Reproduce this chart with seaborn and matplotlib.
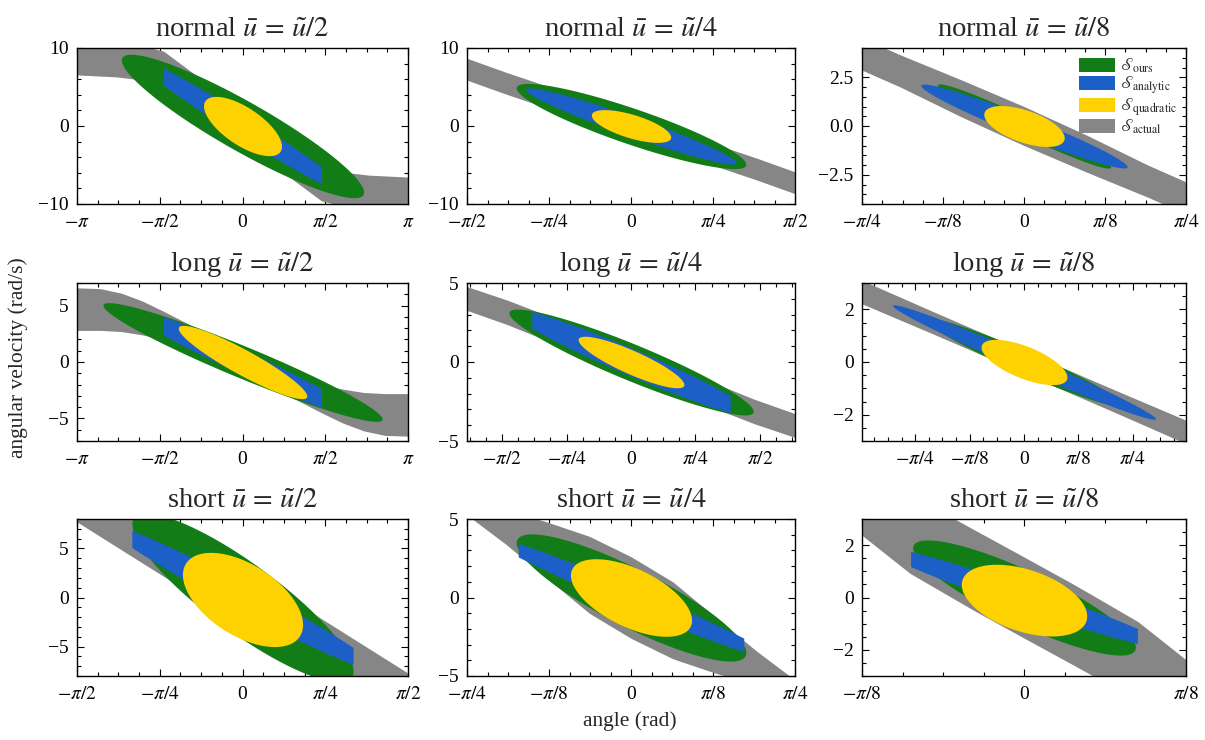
import numpy as np
import matplotlib
matplotlib.use("Agg")
import matplotlib.pyplot as plt
import seaborn as sns
from matplotlib.ticker import AutoMinorLocator, FixedLocator
from matplotlib.patches import Patch

sns.set_theme(style="ticks")
plt.rcParams["font.family"] = ["Liberation Serif", "DejaVu Serif"]
plt.rcParams["mathtext.fontset"] = "stix"

PI = np.pi

# ---- panel grid: rows = horizon type, columns = input bound ----
row_names = ["normal", "long", "short"]
col_divisors = [2, 4, 8]

# axis half-ranges (angle, angular velocity)
x_half = [[PI, PI / 2, PI / 4], [PI, 2.0, 1.17], [PI / 2, PI / 4, PI / 8]]
y_half = [[10, 10, 4], [7, 5, 3], [8, 5, 3]]

# tick positions (multiples of pi) and y ticks
x_tick_frac = [
    [[-1, -0.5, 0, 0.5, 1], [-0.5, -0.25, 0, 0.25, 0.5], [-0.25, -0.125, 0, 0.125, 0.25]],
    [[-1, -0.5, 0, 0.5, 1], [-0.5, -0.25, 0, 0.25, 0.5], [-0.25, -0.125, 0, 0.125, 0.25]],
    [[-0.5, -0.25, 0, 0.25, 0.5], [-0.25, -0.125, 0, 0.125, 0.25], [-0.125, 0, 0.125]],
]
y_ticks = [[[-10, 0, 10], [-10, 0, 10], [-2.5, 0, 2.5]],
           [[-5, 0, 5], [-5, 0, 5], [-2, 0, 2]],
           [[-5, 0, 5], [-5, 0, 5], [-2, 0, 2]]]

# ---- actual reachable set: band between lower and upper boundary ----
actual_x = [
    [[-3.3, -2.4, -1.9, -1.5, -1.1, -0.5, 0.0, 0.5, 1.1, 1.5, 1.9, 2.4, 3.3],
     [-1.7, -1.2, -0.8, -0.4, 0.0, 0.4, 0.8, 1.2, 1.7],
     [-0.9, -0.6, -0.3, 0.0, 0.3, 0.6, 0.9]],
    [[-3.3, -2.7, -2.3, -1.9, -1.5, -1.0, -0.5, 0.0, 0.5, 1.0, 1.5, 1.9, 2.3, 2.7, 3.3],
     [-2.1, -1.5, -1.0, -0.5, 0.0, 0.5, 1.0, 1.5, 2.1],
     [-1.3, -0.65, 0.0, 0.65, 1.3]],
    [[-1.8, -1.57, -1.2, -0.8, -0.4, 0.0, 0.4, 0.8, 1.2, 1.57, 1.8],
     [-0.9, -0.76, -0.6, -0.4, -0.2, 0.0, 0.2, 0.4, 0.6, 0.76, 0.9],
     [-0.45, -0.393, -0.276, -0.168, -0.115, 0.0, 0.115, 0.168, 0.276, 0.393, 0.45]],
]
actual_hi = [
    [[10.8, 10.6, 10.3, 9.6, 7.6, 4.6, 2.0, -1.0, -3.4, -5.2, -5.9, -6.3, -6.6],
     [9.3, 6.9, 5.1, 3.3, 1.4, -0.5, -2.3, -4.1, -6.5],
     [5.05, 3.65, 2.35, 1.0, -0.45, -2.0, -3.4]],
    [[6.6, 6.5, 6.1, 5.4, 4.5, 3.3, 2.1, 0.9, -0.3, -1.2, -2.0, -2.4, -2.7, -2.8, -2.8],
     [4.95, 3.9, 2.9, 1.85, 0.8, -0.25, -1.3, -2.35, -3.45],
     [3.4, 1.9, 0.42, -1.05, -2.5]],
    [[15.0, 14.0, 11.4, 8.6, 5.8, 3.0, 0.2, -2.5, -5.2, -7.7, -9.3],
     [7.0, 6.2, 5.6, 4.8, 3.9, 2.6, 1.0, -1.2, -3.4, -5.0, -6.0],
     [5.5, 4.95, 3.94, 3.0, 2.54, 1.55, 0.55, 0.07, -0.92, -2.38, -3.0]],
]
actual_lo = [
    [[6.6, 6.3, 5.9, 5.2, 3.4, 1.0, -2.0, -4.6, -7.6, -9.6, -10.3, -10.6, -10.8],
     [6.5, 4.1, 2.3, 0.5, -1.4, -3.3, -5.1, -6.9, -9.3],
     [3.4, 2.0, 0.45, -1.0, -2.35, -3.65, -5.05]],
    [[2.8, 2.8, 2.7, 2.4, 2.0, 1.2, 0.3, -0.9, -2.1, -3.3, -4.5, -5.4, -6.1, -6.5, -6.6],
     [3.45, 2.35, 1.3, 0.25, -0.8, -1.85, -2.9, -3.9, -4.95],
     [2.5, 1.05, -0.42, -1.9, -3.4]],
    [[9.3, 7.7, 5.2, 2.5, -0.2, -3.0, -5.8, -8.6, -11.4, -14.0, -15.0],
     [6.0, 5.0, 3.4, 1.2, -1.0, -2.6, -3.9, -4.8, -5.6, -6.2, -7.0],
     [3.0, 2.38, 0.92, -0.07, -0.55, -1.55, -2.54, -3.0, -3.94, -4.95, -5.5]],
]

# ---- ellipsoidal sets: (cx, cy, x half-extent, y half-extent, correlation, angle bound) ----
ours_sets = [
    [(0, 0, 2.3, 9.2, -0.92, None), (0, 0, 1.1, 5.46, -0.897, None), (0, 0, 0.42, 2.16, -0.973, None)],
    [(0, 0, 2.65, 5.26, -0.958, None), (0, 0, 1.49, 3.35, -0.93, None), (0, 0, 0.7, 1.65, -0.962, None)],
    [(0, 0, 1.05, 8.6, -0.87, None), (0, 0, 0.55, 4.05, -0.864, None), (0, 0, 0.27, 2.2, -0.864, None)],
]
analytic_sets = [
    [(0, 0, 2.1, 9.0, -0.985, 1.5), (0, 0, 1.01, 4.88, -0.963, None), (0, 0, 0.5, 2.15, -0.968, None)],
    [(0, 0, 2.2, 4.82, -0.973, 1.5), (0, 0, 1.5, 3.42, -0.965, 1.21), (0, 0, 0.95, 2.175, -0.9885, None)],
    [(0, 0, 1.3, 7.52, -0.981, 1.05), (0, 0, 0.7, 3.98, -0.985, 0.54), (0, 0, 0.36, 1.98, -0.974, 0.275)],
]
quadratic_sets = [
    [(0, 0, 0.74, 3.8, -0.68, None), (0, 0, 0.38, 2.1, -0.667, None), (0, 0, 0.195, 1.05, -0.57, None)],
    [(0, 0, 1.22, 3.25, -0.923, None), (0, 0, 0.645, 1.63, -0.87, None), (0, 0, 0.31, 0.86, -0.66, None)],
    [(0, -0.2, 0.57, 4.8, -0.53, None), (0, 0, 0.29, 2.47, -0.58, None), (0, -0.1, 0.152, 1.37, -0.44, None)],
]

set_colors = {"ours": "#127d17", "analytic": "#1c5fc6", "quadratic": "#fdd200", "actual": "#868686"}
set_labels = {
    "ours": r"$\mathscr{S}_{\mathrm{ours}}$",
    "analytic": r"$\mathscr{S}_{\mathrm{analytic}}$",
    "quadratic": r"$\mathscr{S}_{\mathrm{quadratic}}$",
    "actual": r"$\mathscr{S}_{\mathrm{actual}}$",
}


def fill_ellipse(ax, params, color):
    cx, cy, a, b, r, bound = params
    half = a if bound is None else min(a, bound)
    s = half * np.sin(np.linspace(-np.pi / 2, np.pi / 2, 401))
    centre = cy + r * b / a * s
    width = b * np.sqrt(1 - r * r) * np.sqrt(np.clip(1 - (s / a) ** 2, 0, None))
    ax.fill_between(cx + s, centre - width, centre + width, color=color, lw=0)


def pi_label(f):
    if f == 0:
        return "0"
    sign = "-" if f < 0 else ""
    f = abs(f)
    if f == 1:
        return rf"${sign}\pi$"
    return rf"${sign}\pi/{int(round(1 / f))}$"


fig = plt.figure(figsize=(12.05, 7.4), dpi=100)
W, H = 1205, 740
col_px = [(77, 331), (467, 328), (862, 324)]
row_px = [(48, 156), (283, 158), (519, 157)]

for i in range(3):
    for j in range(3):
        left, w = col_px[j]
        top, h = row_px[i]
        ax = fig.add_axes([left / W, 1 - (top + h) / H, w / W, h / H])
        ax.set_facecolor("white")

        ax.fill_between(actual_x[i][j], actual_lo[i][j], actual_hi[i][j],
                        color=set_colors["actual"], lw=0)
        fill_ellipse(ax, ours_sets[i][j], set_colors["ours"])
        fill_ellipse(ax, analytic_sets[i][j], set_colors["analytic"])
        fill_ellipse(ax, quadratic_sets[i][j], set_colors["quadratic"])

        ax.set_xlim(-x_half[i][j], x_half[i][j])
        ax.set_ylim(-y_half[i][j], y_half[i][j])

        fr = x_tick_frac[i][j]
        ax.xaxis.set_major_locator(FixedLocator([f * PI for f in fr]))
        ax.set_xticklabels([pi_label(f) for f in fr])
        ax.xaxis.set_minor_locator(AutoMinorLocator(4))
        ax.yaxis.set_major_locator(FixedLocator(y_ticks[i][j]))
        ax.yaxis.set_minor_locator(AutoMinorLocator())
        if j == 2 and i == 0:
            ax.set_yticklabels([f"{v:.1f}".replace("-", "\u2212") for v in y_ticks[i][j]])
        else:
            ax.set_yticklabels([f"{v:g}".replace("-", "\u2212") for v in y_ticks[i][j]])

        ax.tick_params(which="both", direction="in", top=True, right=True,
                       labelsize=14, colors="black", width=0.8)
        ax.tick_params(axis="x", which="major", pad=7)
        ax.tick_params(axis="y", which="major", pad=6)
        ax.tick_params(which="major", length=5)
        ax.tick_params(which="minor", length=2.8)
        for sp in ax.spines.values():
            sp.set_color("black")
            sp.set_linewidth(1.0)

        ax.set_title(rf"{row_names[i]} $\bar{{u}}\,=\,\tilde{{u}}/{col_divisors[j]}$",
                     fontsize=20.5, pad=8)

        if i == 0 and j == 2:
            keys = ["ours", "analytic", "quadratic", "actual"]
            handles = [Patch(facecolor=set_colors[k], edgecolor="none") for k in keys]
            ax.legend(handles, [set_labels[k] for k in keys], loc="upper right",
                      frameon=False, fontsize=12, handlelength=2.2, handleheight=0.9,
                      labelspacing=0.0, handletextpad=0.3, borderaxespad=0.1,
                      borderpad=0.4)

fig.text(630 / W, 1 - 721 / H, "angle (rad)", ha="center", va="center", fontsize=15.5)
fig.text(18 / W, 1 - 358 / H, "angular velocity (rad/s)", ha="center", va="center",
         rotation=90, fontsize=15.5)

fig.savefig("out.png", dpi=100, facecolor="white")
